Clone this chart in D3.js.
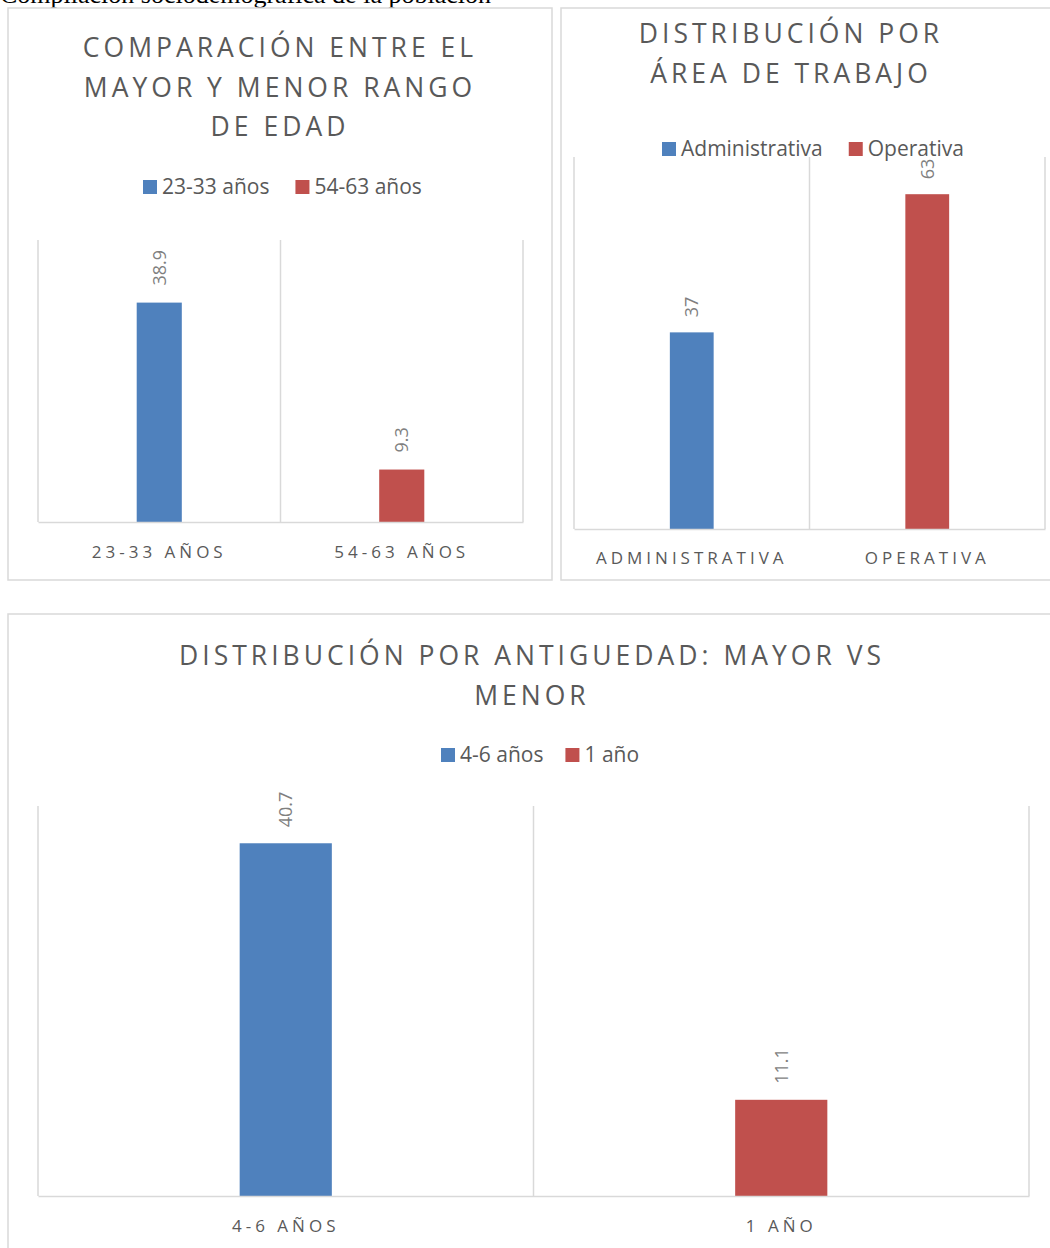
<!DOCTYPE html>
<html><head><meta charset="utf-8">
<script src="https://cdn.jsdelivr.net/npm/d3@7"></script>
<style>
body{margin:0;background:#fff;}
svg{display:block;}
text{font-family:"Open Sans",sans-serif;}
</style></head>
<body>
<svg id="c" width="1050" height="1248"></svg>
<script>
// Chart 1
const c1Title = ["COMPARACIÓN ENTRE EL", "MAYOR Y MENOR RANGO", "DE EDAD"];
const c1Categories = ["23-33 años", "54-63 años"];
const c1Values = [38.9, 9.3];
const c1Max = 50;
// Chart 2
const c2Title = ["DISTRIBUCIÓN POR", "ÁREA DE TRABAJO"];
const c2Categories = ["Administrativa", "Operativa"];
const c2Values = [37, 63];
const c2Max = 70;
// Chart 3
const c3Title = ["DISTRIBUCIÓN POR ANTIGUEDAD: MAYOR VS", "MENOR"];
const c3Categories = ["4-6 años", "1 año"];
const c3Values = [40.7, 11.1];
const c3Max = 45;

const colors = ["#4f81bd", "#c0504d"];
const textCol = "#595959";
const gridCol = "#d9d9d9";

const svg = d3.select("#c");

svg.append("text").attr("x", 0).attr("y", 3)
  .style("font-family", "'Liberation Serif', 'Times New Roman', serif")
  .style("font-size", "26px").attr("fill", "#000")
  .text("Compilación sociodemográfica de la población");

function drawChart(cfg) {
  const g = svg.append("g");
  g.append("rect").attr("x", cfg.box[0]).attr("y", cfg.box[1])
    .attr("width", cfg.box[2]).attr("height", cfg.box[3])
    .attr("fill", "#fff").attr("stroke", gridCol).attr("stroke-width", 1.5);
  cfg.title.forEach((t, i) => {
    g.append("text").attr("x", cfg.titleX).attr("y", cfg.titleY + i * cfg.titleLH)
      .attr("text-anchor", "middle").attr("fill", textCol)
      .style("font-size", cfg.titleSize + "px").style("letter-spacing", cfg.titleLS + "px")
      .text(t);
  });
  const x = d3.scaleBand().domain(cfg.categories).range([cfg.plot[0], cfg.plot[1]]);
  const y = d3.scaleLinear().domain([0, cfg.max]).range([cfg.plot[3], cfg.plot[2]]);
  const barW = x.bandwidth() * 0.186;
  const seps = cfg.categories.map(c => x(c)).concat([cfg.plot[1]]);
  g.selectAll(".sep").data(seps).join("line")
    .attr("x1", d => d).attr("x2", d => d)
    .attr("y1", y(cfg.max)).attr("y2", y(0))
    .attr("stroke", gridCol).attr("stroke-width", 1.5);
  g.selectAll(".bar").data(cfg.values).join("rect")
    .attr("x", (d, i) => x(cfg.categories[i]) + x.bandwidth() / 2 - barW / 2)
    .attr("y", d => y(d)).attr("width", barW)
    .attr("height", d => y(0) - y(d))
    .attr("fill", (d, i) => colors[i]);
  const ax = g.append("g").attr("transform", `translate(0,${y(0)})`)
    .call(d3.axisBottom(x).tickSize(0).tickPadding(cfg.tickPad).tickFormat(d => d.toUpperCase()));
  ax.select(".domain").attr("stroke", gridCol).attr("stroke-width", 1.5);
  ax.selectAll("text").attr("fill", textCol)
    .style("font-family", "'Open Sans',sans-serif")
    .style("font-size", cfg.catSize + "px").style("letter-spacing", cfg.catLS + "px");
  g.selectAll(".lbl").data(cfg.values).join("text")
    .attr("transform", (d, i) => `translate(${x(cfg.categories[i]) + x.bandwidth() / 2 + cfg.lblSize * 0.35},${y(d) - cfg.lblGap}) rotate(-90)`)
    .attr("text-anchor", "start").attr("fill", "#7f7f7f")
    .style("font-size", cfg.lblSize + "px")
    .text(d => d);
  const lg = g.append("g").attr("transform", `translate(${cfg.legendX},${cfg.legendY})`);
  let off = 0;
  cfg.categories.forEach((c, i) => {
    const item = lg.append("g").attr("transform", `translate(${off},0)`);
    item.append("rect").attr("x", 0).attr("y", -cfg.legSq / 2).attr("width", cfg.legSq).attr("height", cfg.legSq).attr("fill", colors[i]);
    const t = item.append("text").attr("x", cfg.legSq + 5).attr("y", 0).attr("dy", "0.35em")
      .attr("fill", textCol).style("font-size", cfg.legSize + "px").text(c);
    off += cfg.legSq + 5 + t.node().getComputedTextLength() + cfg.legGap;
  });
}

drawChart({
  box: [8, 8, 544, 572], title: c1Title, titleX: 280, titleY: 57, titleLH: 39.5, titleSize: 26.5, titleLS: 4,
  categories: c1Categories, values: c1Values, max: c1Max,
  plot: [38, 523, 240, 522], tickPad: 24, catSize: 17, catLS: 4,
  lblSize: 18, lblGap: 17,
  legendX: 143, legendY: 187, legSq: 14, legSize: 21, legGap: 26
});
drawChart({
  box: [561, 8, 520, 572], title: c2Title, titleX: 791, titleY: 43, titleLH: 39.5, titleSize: 26.5, titleLS: 4,
  categories: c2Categories, values: c2Values, max: c2Max,
  plot: [574, 1045, 157, 529], tickPad: 23, catSize: 17, catLS: 4,
  lblSize: 18, lblGap: 15,
  legendX: 662, legendY: 149, legSq: 14, legSize: 21, legGap: 26
});
drawChart({
  box: [8, 614, 1060, 660], title: c3Title, titleX: 532, titleY: 665, titleLH: 39.5, titleSize: 26.5, titleLS: 4,
  categories: c3Categories, values: c3Values, max: c3Max,
  plot: [38, 1029, 806, 1196], tickPad: 24, catSize: 17, catLS: 4,
  lblSize: 18, lblGap: 16,
  legendX: 441, legendY: 755, legSq: 14, legSize: 21, legGap: 22
});
</script>
</body></html>
